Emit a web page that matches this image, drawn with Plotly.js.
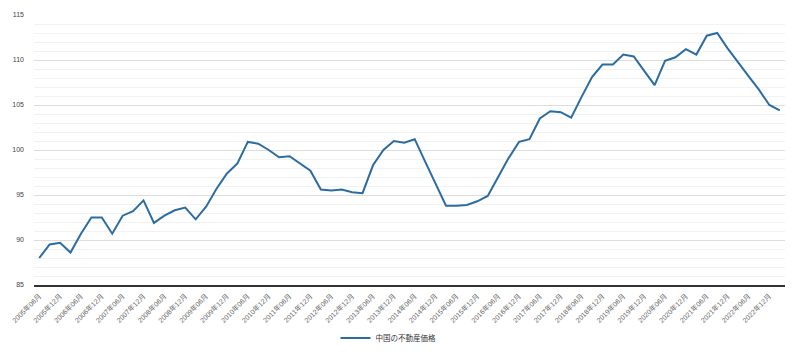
<!DOCTYPE html>
<html>
<head>
<meta charset="utf-8">
<script src="https://cdn.plot.ly/plotly-3.0.1.min.js"></script>
<style>html,body{margin:0;padding:0;background:#fff;}#chart{width:800px;height:354px;}</style>
</head>
<body>
<div id="chart"></div>
<script>
const periods = [
 "2005年06月","2005年09月","2005年12月",
 "2006年03月","2006年06月","2006年09月","2006年12月",
 "2007年03月","2007年06月","2007年09月","2007年12月",
 "2008年03月","2008年06月","2008年09月","2008年12月",
 "2009年03月","2009年06月","2009年09月","2009年12月",
 "2010年03月","2010年06月","2010年09月","2010年12月",
 "2011年03月","2011年06月","2011年09月","2011年12月",
 "2012年03月","2012年06月","2012年09月","2012年12月",
 "2013年03月","2013年06月","2013年09月","2013年12月",
 "2014年03月","2014年06月","2014年09月","2014年12月",
 "2015年03月","2015年06月","2015年09月","2015年12月",
 "2016年03月","2016年06月","2016年09月","2016年12月",
 "2017年03月","2017年06月","2017年09月","2017年12月",
 "2018年03月","2018年06月","2018年09月","2018年12月",
 "2019年03月","2019年06月","2019年09月","2019年12月",
 "2020年03月","2020年06月","2020年09月","2020年12月",
 "2021年03月","2021年06月","2021年09月","2021年12月",
 "2022年03月","2022年06月","2022年09月","2022年12月",
 "2023年03月"
];
const priceIndex = [
 88.0, 89.5, 89.7,
 88.6, 90.7, 92.5, 92.5,
 90.7, 92.7, 93.2, 94.4,
 91.9, 92.7, 93.3, 93.6,
 92.3, 93.7, 95.7, 97.4,
 98.5, 100.9, 100.7, 100.0,
 99.2, 99.3, 98.5, 97.7,
 95.6, 95.5, 95.6, 95.3,
 95.2, 98.3, 100.0, 101.0,
 100.8, 101.2, 98.7, 96.2,
 93.8, 93.8, 93.9, 94.3,
 94.9, 97.0, 99.1, 100.9,
 101.2, 103.5, 104.3, 104.2,
 103.6, 105.9, 108.1, 109.5,
 109.5, 110.6, 110.4, 108.8,
 107.2, 109.9, 110.3, 111.2,
 110.6, 112.7, 113.0, 111.3,
 109.7, 108.2, 106.7, 105.0,
 104.4
];
const seriesName = "中国の不動産価格";
const yTicks = [85, 90, 95, 100, 105, 110, 115];

const fontFam = "Liberation Sans, Arial, 'Noto Sans CJK JP', sans-serif";

const trace = {
  x: periods,
  y: priceIndex,
  type: "scatter",
  mode: "lines",
  name: seriesName,
  line: {color: "#2b6ca3", width: 2},
  hoverinfo: "x+y"
};

const layout = {
  width: 800, height: 354,
  margin: {l: 34, r: 15, t: 14.5, b: 69},
  paper_bgcolor: "#fff", plot_bgcolor: "#fff",
  font: {family: fontFam, size: 7, color: "#444"},
  showlegend: true,
  xaxis: {
    type: "category",
    range: [-0.5, periods.length - 0.5],
    tickmode: "linear", tick0: 0, dtick: 2,
    tickangle: -45,
    tickfont: {family: fontFam, size: 7, color: "#666"},
    showgrid: false,
    showline: true, linecolor: "#333", linewidth: 1.5,
    ticks: "", zeroline: false,
    ticklabelstandoff: 3
  },
  yaxis: {
    range: [85, 115],
    tickvals: yTicks,
    tickfont: {family: fontFam, size: 7, color: "#444"},
    showgrid: true, gridcolor: "#dddddd", gridwidth: 1,
    minor: {dtick: 1, showgrid: true, gridcolor: "#f2f2f2", gridwidth: 1, ticks: ""},
    zeroline: false, showline: false, ticks: "",
    ticklabelstandoff: 9
  },
  legend: {
    orientation: "h",
    x: 0.472, xanchor: "center",
    yref: "container", y: 0.045, yanchor: "middle",
    font: {family: "'Noto Sans CJK JP', sans-serif", size: 7.5, color: "#333"}
  }
};

Plotly.newPlot("chart", [trace], layout, {displayModeBar: false, staticPlot: true});
</script>
</body>
</html>
